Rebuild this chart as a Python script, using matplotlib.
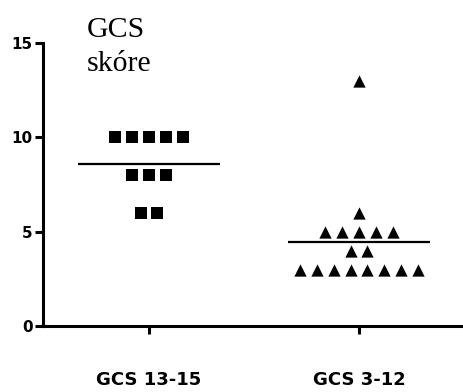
import numpy as np
import matplotlib.pyplot as plt

groups = ['GCS 13-15', 'GCS 3-12']
group1 = [10, 10, 10, 10, 10, 8, 8, 8, 6, 6]
group2 = [13, 6, 5, 5, 5, 5, 5, 4, 4, 3, 3, 3, 3, 3, 3, 3, 3]
markers = ['s', '^']
yticks = [0, 5, 10, 15]


def column_offsets(values, step=0.08):
    # spread equal values side by side, like a column scatter plot
    values = np.asarray(values, dtype=float)
    offs = np.zeros(len(values))
    for v in np.unique(values):
        idx = np.where(values == v)[0]
        n = len(idx)
        offs[idx] = (np.arange(n) - (n - 1) / 2) * step
    return offs


fig = plt.figure(figsize=(4.64, 3.92), dpi=100)
ax = fig.add_axes([0.0927, 0.168, 0.9073, 0.722])

for i, (vals, m) in enumerate(zip([group1, group2], markers)):
    x = i + 1 + column_offsets(vals)
    ax.scatter(x, vals, marker=m, s=85 if m == 's' else 78, color='black',
               linewidths=0, zorder=3, clip_on=False)
    ax.hlines(np.mean(vals), i + 1 - 0.338, i + 1 + 0.338, color='black', linewidth=1.6)

ax.set_xlim(0.495, 2.5)
ax.set_ylim(0, 15)
ax.set_xticks([1, 2])
ax.set_xticklabels(groups, fontsize=13, fontweight='bold', family='DejaVu Sans')
ax.set_yticks(yticks)
ax.set_yticklabels([str(t) for t in yticks], fontsize=11, fontweight='bold',
                   family='DejaVu Sans')
ax.tick_params(axis='x', length=6, width=2.2, pad=26)
ax.tick_params(axis='y', length=6, width=2.2, pad=1.5)

for side in ['top', 'right']:
    ax.spines[side].set_visible(False)
for side in ['left', 'bottom']:
    ax.spines[side].set_linewidth(2.2)

fig.text(87 / 464, 1 - 17 / 392, 'GCS\nskóre', family='Liberation Serif', fontsize=21.5,
         va='top', ha='left', linespacing=1.4)

plt.savefig('out.png', dpi=100)
